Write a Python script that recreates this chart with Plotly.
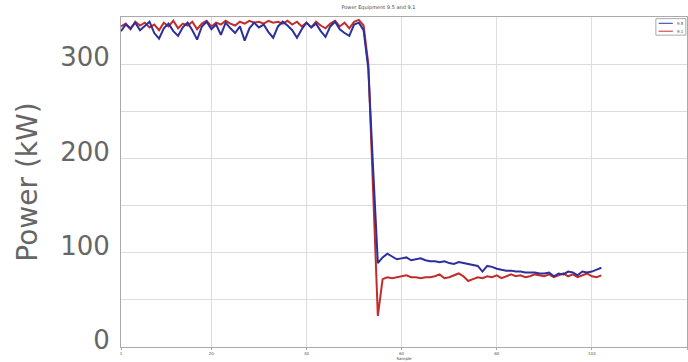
import plotly.graph_objects as go

# ---- data ----
blue_vals = [
    335, 342, 338, 344, 336, 341, 345, 333, 327, 338,
    343, 335, 330, 339, 344, 336, 326, 340, 345, 337,
    342, 331, 344, 338, 333, 340, 325, 338, 344, 339,
    342, 334, 328, 340, 345, 341, 336, 328, 337, 344,
    339, 343, 335, 329, 340, 345, 337, 333, 330, 342,
    344, 336,
    295, 190, 89,
    95, 99, 96, 93, 94, 95, 92, 93, 94, 92,
    91, 91, 90, 91, 89, 88, 90, 89, 88, 87,
    86, 80, 86, 85, 83, 82, 81, 81, 80, 80,
    79, 79, 79, 78, 78, 79, 75, 78, 77, 80,
    79, 76, 80, 79, 80, 82, 84,
]
red_vals = [
    340, 343, 337, 345, 341, 344, 339, 342, 336, 344,
    340, 346, 338, 343, 341, 345, 337, 343, 346, 340,
    344, 342, 346, 343, 341, 345, 343, 346, 344, 345,
    343, 346, 344, 345, 343, 346, 342, 345, 340, 344,
    339, 345, 341, 338, 343, 346, 340, 344, 338, 345,
    347, 341,
    300, 175, 33,
    72, 74, 73, 74, 75, 76, 74, 74, 73, 74,
    74, 75, 77, 73, 74, 76, 78, 75, 70, 72,
    74, 73, 75, 74, 76, 73, 75, 77, 75, 76,
    74, 75, 77, 76, 75, 77, 74, 76, 78, 75,
    77, 74, 76, 78, 75, 74, 76,
]
blue_name = "9.5"
red_name = "9.1"
x_tick_vals = [1, 20, 40, 60, 80, 100, 120]
x_tick_text = ["1", "20", "40", "60", "80", "100", "120"]
y_tick_vals = [0, 50, 100, 150, 200, 250, 300]
y_tick_text = ["0", "", "100", "", "200", "", "300"]

blue_color = "#2c2f9c"
red_color = "#c22d2a"

blue_x = list(range(1, len(blue_vals) + 1))
red_x = list(range(1, len(red_vals) + 1))

fig = go.Figure()
fig.add_trace(go.Scatter(x=red_x, y=red_vals, mode="lines", name=red_name,
                         line=dict(color=red_color, width=2), showlegend=False))
fig.add_trace(go.Scatter(x=blue_x, y=blue_vals, mode="lines", name=blue_name,
                         line=dict(color=blue_color, width=2), showlegend=False))

# small boxed legend in the top-right corner (paper coordinates)
fig.add_shape(type="rect", xref="paper", yref="paper", x0=0.945, x1=0.998,
              y0=0.945, y1=0.995, line=dict(color="#aaa", width=1),
              fillcolor="white", layer="above")
for i, (nm, col) in enumerate([(blue_name, blue_color), (red_name, red_color)]):
    yy = 0.981 - i * 0.024
    fig.add_shape(type="line", xref="paper", yref="paper", x0=0.950, x1=0.975,
                  y0=yy, y1=yy, line=dict(color=col, width=1), layer="above")
    fig.add_annotation(xref="paper", yref="paper", x=0.978, y=yy, text=nm,
                       showarrow=False, xanchor="left", yanchor="middle",
                       font=dict(size=4, color="#444", family="DejaVu Sans"))

fig.update_layout(
    width=688, height=362,
    margin=dict(l=121, r=1, t=17, b=15),
    paper_bgcolor="white", plot_bgcolor="white",
    title=dict(text="Power Equipment 9.5 and 9.1", x=0.55, xanchor="center",
               y=0.985, yanchor="top",
               font=dict(size=5, color="#444", family="DejaVu Sans")),
    showlegend=False,
    xaxis=dict(range=[1, 120], tickvals=x_tick_vals, ticktext=x_tick_text,
               showgrid=True, gridcolor="#dcdcdc", gridwidth=1,
               showline=True, linecolor="#aaa", linewidth=1, mirror=True,
               ticks="outside", ticklen=2, tickcolor="#aaa",
               tickfont=dict(size=4, color="#555", family="DejaVu Sans"),
               title=dict(text="Sample", standoff=0,
                          font=dict(size=4, color="#444", family="DejaVu Sans")),
               automargin=False, zeroline=False),
    yaxis=dict(range=[0, 350], tickvals=y_tick_vals, ticktext=y_tick_text,
               showgrid=True, gridcolor="#dcdcdc", gridwidth=1,
               showline=True, linecolor="#aaa", linewidth=1, mirror=True,
               ticks="", ticklabelstandoff=5, ticklabelshift=-7,
               ticklabeloverflow="allow",
               tickfont=dict(size=26, color="#666", family="DejaVu Sans"),
               title=dict(text="Power (kW)", standoff=14,
                          font=dict(size=28, color="#666", family="DejaVu Sans")),
               automargin=False, zeroline=False),
)

fig.write_html("out.html", config={"displayModeBar": False},
               post_script="document.body.style.margin='0';document.body.style.overflow='hidden';")
